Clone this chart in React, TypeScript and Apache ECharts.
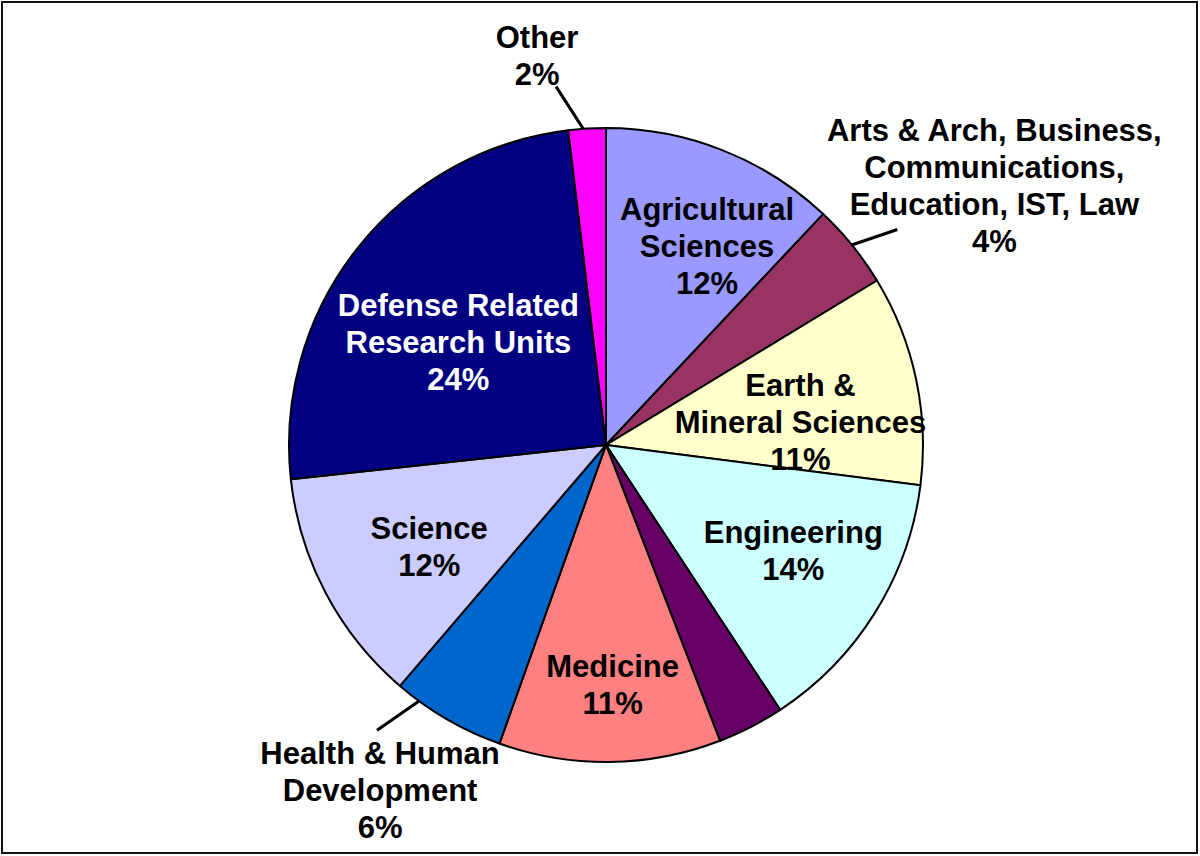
import React, { useEffect, useRef } from 'react';
import * as echarts from 'echarts';

const CATEGORIES = [
  'Agricultural\nSciences',
  'Arts & Arch, Business,\nCommunications,\nEducation, IST, Law',
  'Earth &\nMineral Sciences',
  'Engineering',
  'Unlabeled',
  'Medicine',
  'Health & Human\nDevelopment',
  'Science',
  'Defense Related\nResearch Units',
  'Other',
];
const VALUES = [12.0, 4.3, 10.7, 13.7, 3.4, 11.3, 5.8, 12.0, 24.8, 1.9];
const PERCENT_LABELS = ['12%', '4%', '11%', '14%', '', '11%', '6%', '12%', '24%', '2%'];
const COLORS = ['#9999FF', '#993366', '#FFFFCC', '#CCFFFF', '#660066', '#FF8080', '#0066CC', '#CCCCFF', '#000080', '#FF00FF'];
const INSIDE = [true, false, true, true, false, true, false, true, true, false];
const OUTSIDE = [false, true, false, false, false, false, true, false, false, true];

// label nudges (style only)
const INSIDE_NUDGE: number[][] = [
  [24, -4], [0, 0], [-10, 21], [10, -5], [0, 0], [4, 31], [0, 0], [8, 4], [16, 28], [0, 0],
];
// outside: [lineStartShift, lineEndShift, labelCenterShift] relative to slice edge point
const OUTSIDE_LAYOUT: Record<number, number[][]> = {
  1: [[-2, 0], [45, -16], [142, -59]],
  6: [[-24, -21], [-70, 11], [-67, 71]],
  9: [[-2, 3], [-31, -42], [-50, -73]],
};

const CENTER = [606, 445];
const RADIUS = 317;

const FONT = {
  fontFamily: '"Liberation Sans", Arial, Helvetica, sans-serif',
  fontWeight: 'bold' as const,
  fontSize: 31,
  lineHeight: 37,
};

export default function App() {
  const ref = useRef<HTMLDivElement>(null);
  useEffect(() => {
    document.body.style.margin = '0';
    const chart = echarts.init(ref.current!, null, { renderer: 'svg' });
    const fmt = (p: any) => `${CATEGORIES[p.dataIndex]}\n${PERCENT_LABELS[p.dataIndex]}`;
    chart.setOption({
      animation: false,
      backgroundColor: '#fff',
      graphic: [
        {
          type: 'rect',
          shape: { x: 2, y: 2, width: 1195, height: 851 },
          style: { fill: 'none', stroke: '#111', lineWidth: 2 },
          silent: true,
        },
      ],
      series: [
        {
          type: 'pie',
          center: CENTER,
          radius: RADIUS,
          startAngle: 90,
          clockwise: true,
          avoidLabelOverlap: false,
          emphasis: { disabled: true },
          itemStyle: { borderColor: '#000', borderWidth: 2 },
          data: VALUES.map((v, i) => ({
            name: CATEGORIES[i],
            value: v,
            itemStyle: { color: COLORS[i] },
            label: {
              show: OUTSIDE[i],
              position: 'outside',
              formatter: fmt,
              color: '#000',
              ...FONT,
            },
            labelLine: {
              show: OUTSIDE[i],
              length: 20,
              length2: 0,
              lineStyle: { color: '#000', width: 3 },
            },
          })),
          labelLayout: (p: any) => {
            const cfg = OUTSIDE_LAYOUT[p.dataIndex];
            if (!cfg || !p.labelLinePoints) return {};
            const s = p.labelLinePoints[0];
            return {
              x: s[0] + cfg[2][0],
              y: s[1] + cfg[2][1],
              align: 'center',
              verticalAlign: 'middle',
              labelLinePoints: [
                [s[0] + cfg[0][0], s[1] + cfg[0][1]],
                [s[0] + cfg[1][0], s[1] + cfg[1][1]],
              ],
            };
          },
        },
        {
          type: 'pie',
          center: CENTER,
          radius: [95, RADIUS],
          startAngle: 90,
          clockwise: true,
          silent: true,
          avoidLabelOverlap: false,
          emphasis: { disabled: true },
          itemStyle: { color: 'transparent', borderWidth: 0 },
          labelLine: { show: false },
          data: VALUES.map((v, i) => ({
            name: CATEGORIES[i],
            value: v,
            label: {
              show: INSIDE[i],
              position: 'inside',
              formatter: fmt,
              color: i === 8 ? '#fff' : '#000',
              ...FONT,
            },
          })),
          labelLayout: (p: any) => {
            const n = INSIDE_NUDGE[p.dataIndex];
            return { dx: n[0], dy: n[1] };
          },
        },
      ],
    });
    return () => chart.dispose();
  }, []);
  return (
    <div style={{ position: 'absolute', left: 0, top: 0, width: 1200, height: 856 }}>
      <div ref={ref} style={{ width: 1200, height: 856 }} />
    </div>
  );
}
